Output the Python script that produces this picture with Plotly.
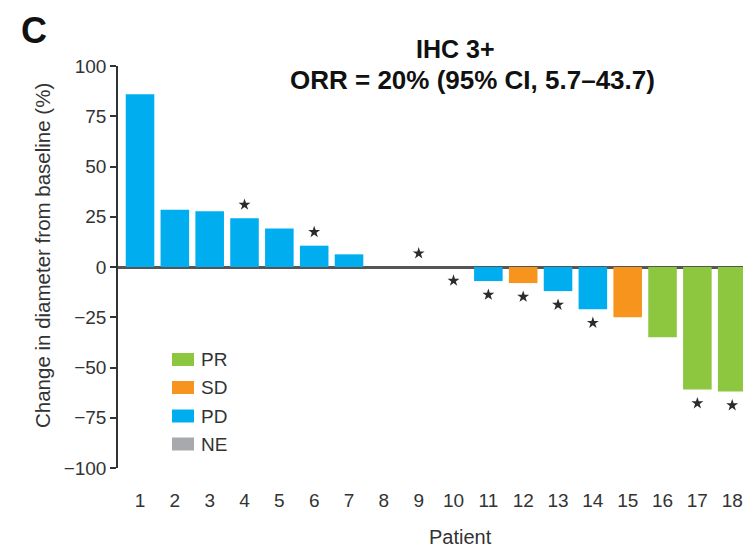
import plotly.graph_objects as go

patients = list(range(1, 19))
change_pct = [86, 28.5, 27.7, 24.2, 19.2, 10.6, 6.3, 0, 0, 0, -7, -8, -12, -21, -25, -35, -61, -62]
response = ["PD", "PD", "PD", "PD", "PD", "PD", "PD", "NE", "NE", "NE",
            "PD", "SD", "PD", "PD", "SD", "PR", "PR", "PR"]
asterisk = [0, 0, 0, 1, 0, 1, 0, 0, 1, 1, 1, 1, 1, 1, 0, 0, 1, 1]
asterisk_side = [1, 1, 1, 1, 1, 1, 1, 1, 1, -1, -1, -1, -1, -1, -1, -1, -1, -1]
categories = ["PR", "SD", "PD", "NE"]
colors = {"PR": "#8DC63F", "SD": "#F7941D", "PD": "#00AEEF", "NE": "#A7A9AC"}
y_ticks = [100, 75, 50, 25, 0, -25, -50, -75, -100]
y_ticktext = ["100", "75", "50", "25", "0", "\u221225", "\u221250", "\u221275", "\u2212100"]

FONT = "Liberation Sans, Arial, sans-serif"
TXT = "#333333"

W, H = 743, 550
ML, MT, MB = 118, 66, 82
PW, PH = W - ML, H - MT - MB


def px_x(sx):  # pixel x -> paper x
    return (sx - ML) / PW


def px_y(sy):  # pixel y -> paper y
    return (H - MB - sy) / PH


fig = go.Figure()
for cat in categories:
    xs = [p for p, r in zip(patients, response) if r == cat]
    ys = [v for v, r in zip(change_pct, response) if r == cat]
    fig.add_trace(go.Bar(x=xs, y=ys, name=cat, width=0.82, showlegend=False,
                         marker=dict(color=colors[cat], line=dict(width=0))))

ax = [p for p, a in zip(patients, asterisk) if a]
ay = [v + 6.8 * s for v, a, s in zip(change_pct, asterisk, asterisk_side) if a]
fig.add_trace(go.Scatter(x=ax, y=ay, mode="markers", showlegend=False,
                         marker=dict(symbol="star", size=9, color="#2b2b2b")))

annotations = [
    dict(text="<b>C</b>", xref="paper", yref="paper", x=px_x(19), y=px_y(8),
         xanchor="left", yanchor="top", showarrow=False,
         font=dict(size=36, color="#111111", family=FONT)),
    dict(text="<b>IHC 3+</b>", xref="paper", yref="paper", x=px_x(456), y=px_y(49),
         xanchor="center", yanchor="middle", showarrow=False,
         font=dict(size=25, color="#111111", family=FONT)),
    dict(text="<b>ORR = 20% (95% CI, 5.7\u201343.7)</b>", xref="paper", yref="paper",
         x=px_x(473), y=px_y(80), xanchor="center", yanchor="middle", showarrow=False,
         font=dict(size=26, color="#111111", family=FONT)),
    dict(text="Change in diameter from baseline (%)", xref="paper", yref="paper",
         x=px_x(43), y=px_y(256), xanchor="center", yanchor="middle", textangle=-90,
         showarrow=False, font=dict(size=20.5, color=TXT, family=FONT)),
    dict(text="Patient", xref="paper", yref="paper", x=px_x(460), y=px_y(537),
         xanchor="center", yanchor="middle", showarrow=False,
         font=dict(size=20, color=TXT, family=FONT)),
]

shapes = []
legend_y = [359.5, 387.5, 416, 444]
for cat, sy in zip(categories, legend_y):
    shapes.append(dict(type="rect", xref="paper", yref="paper",
                       x0=px_x(172), x1=px_x(194), y0=px_y(sy - 6.5), y1=px_y(sy + 6.5),
                       fillcolor=colors[cat], line=dict(width=0)))
    annotations.append(dict(text=cat, xref="paper", yref="paper", x=px_x(199), y=px_y(sy),
                            xanchor="left", yanchor="middle", showarrow=False,
                            font=dict(size=19, color=TXT, family=FONT)))

fig.update_layout(
    width=W, height=H,
    margin=dict(l=ML, r=0, t=MT, b=MB, autoexpand=False),
    plot_bgcolor="white", paper_bgcolor="white",
    barmode="overlay", showlegend=False,
    font=dict(family=FONT, color=TXT, size=18),
    annotations=annotations, shapes=shapes,
)
fig.update_xaxes(range=[0.368, 18.31], tickmode="array", tickvals=patients,
                 ticktext=[str(p) for p in patients], showline=False, ticks="",
                 showgrid=False, zeroline=False, ticklabelstandoff=19,
                 tickfont=dict(size=19), automargin=False)
fig.update_yaxes(range=[-100, 100], tickmode="array", tickvals=y_ticks, ticktext=y_ticktext,
                 showline=True, linecolor="#333333", linewidth=1.5, ticks="outside",
                 ticklen=6, tickwidth=1.5, tickcolor="#333333", showgrid=False,
                 zeroline=True, zerolinecolor="#555555", zerolinewidth=2.5,
                 tickfont=dict(size=19), automargin=False)

fig.write_html(
    "out.html",
    config={"displayModeBar": False},
    post_script="document.body.style.margin='0';"
                "document.documentElement.style.overflow='hidden';"
                "document.body.style.overflow='hidden';",
)
